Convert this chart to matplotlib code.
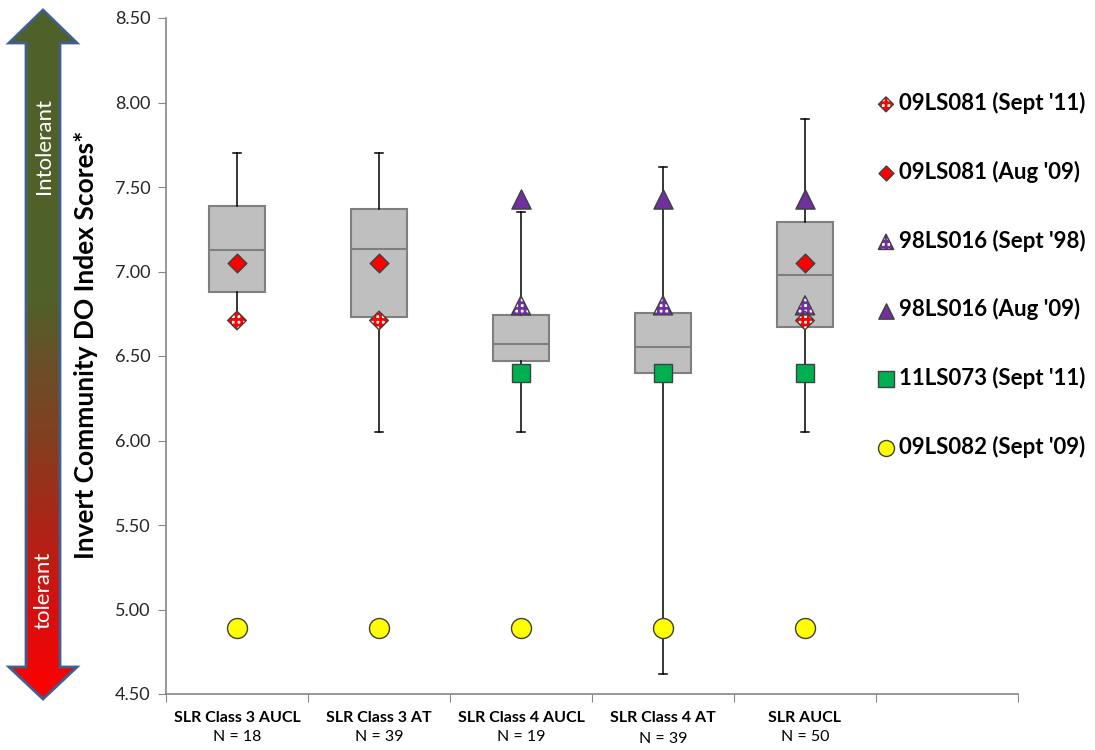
# Invert Community DO index scores by SLR class, with site scores overlaid
import numpy as np
import matplotlib
matplotlib.use("Agg")
import matplotlib.pyplot as plt
from matplotlib.colors import LinearSegmentedColormap
from matplotlib.patches import Polygon
from matplotlib.legend_handler import HandlerTuple

plt.rcParams["font.family"] = ["Lato", "DejaVu Sans"]
plt.rcParams["hatch.linewidth"] = 2.0

categories = ["SLR Class 3 AUCL", "SLR Class 3 AT", "SLR Class 4 AUCL", "SLR Class 4 AT", "SLR AUCL"]
n_counts = [18, 39, 19, 39, 50]

# box stats
whis_lo = [6.69, 6.05, 6.05, 4.62, 6.05]
q1 = [6.88, 6.73, 6.47, 6.40, 6.67]
med = [7.13, 7.135, 6.57, 6.555, 6.98]
q3 = [7.39, 7.37, 6.74, 6.755, 7.29]
whis_hi = [7.70, 7.70, 7.35, 7.62, 7.90]

# site scores (category positions, score)
site_09LS081_sep11 = ([1, 2, 5], 6.71)
site_09LS081_aug09 = ([1, 2, 5], 7.05)
site_98LS016_sep98 = ([3, 4, 5], 6.80)
site_98LS016_aug09 = ([3, 4, 5], 7.43)
site_11LS073_sep11 = ([3, 4, 5], 6.40)
site_09LS082_sep09 = ([1, 2, 3, 4, 5], 4.89)

yticks = [4.5, 5.0, 5.5, 6.0, 6.5, 7.0, 7.5, 8.0, 8.5]

fig = plt.figure(figsize=(10.95, 7.5), dpi=100)
ax = fig.add_axes([166 / 1095, 1 - 694 / 750, (1018 - 166) / 1095, (694 - 18) / 750])

stats = []
for i in range(len(categories)):
    stats.append(dict(med=med[i], q1=q1[i], q3=q3[i], whislo=whis_lo[i], whishi=whis_hi[i], fliers=[]))
ax.bxp(stats, positions=range(1, 6), widths=0.4, patch_artist=True, showfliers=False,
       capwidths=0.06,
       boxprops=dict(facecolor="#BFBFBF", edgecolor="#7F7F7F", linewidth=1.5),
       medianprops=dict(color="#7F7F7F", linewidth=1.5),
       whiskerprops=dict(color="black", linewidth=1.1),
       capprops=dict(color="black", linewidth=1.1), zorder=2)

grey = "#404040"

def plot_site(site, marker, face, s, hatch=None, hatch_col=None):
    xs, val = site
    ys = [val] * len(xs)
    if hatch:
        base = ax.scatter(xs, ys, s=s, marker=marker, facecolor="white", edgecolor=hatch_col,
                          hatch=hatch, linewidth=0, zorder=4)
        top = ax.scatter(xs, ys, s=s, marker=marker, facecolor="none", edgecolor=grey,
                         linewidth=1.0, zorder=5)
        return (base, top)
    return ax.scatter(xs, ys, s=s, marker=marker, facecolor=face, edgecolor=grey,
                      linewidth=1.0, zorder=5)

h1 = plot_site(site_09LS081_sep11, "D", None, 90, hatch="+++", hatch_col="#FF0000")
h2 = plot_site(site_09LS081_aug09, "D", "#FF0000", 90)
h3 = plot_site(site_98LS016_sep98, "^", None, 190, hatch="+++", hatch_col="#7030A0")
h4 = plot_site(site_98LS016_aug09, "^", "#7030A0", 190)
h5 = plot_site(site_11LS073_sep11, "s", "#00B050", 187)
h6 = plot_site(site_09LS082_sep09, "o", "#FFFF00", 207)

labels = ["09LS081 (Sept '11)", "09LS081 (Aug '09)", "98LS016 (Sept '98)",
          "98LS016 (Aug '09)", "11LS073 (Sept '11)", "09LS082 (Sept '09)"]
leg = fig.legend([h1, h2, h3, h4, h5, h6], labels, loc="upper left",
                 bbox_to_anchor=(866 / 1095, 1 - 81 / 750), frameon=False,
                 borderpad=0, labelspacing=2.1, handlelength=0.8, handletextpad=0.2,
                 markerscale=0.8,
                 handler_map={tuple: HandlerTuple(ndivide=1, pad=0)},
                 prop=dict(weight="bold", size=16))

ax.set_xlim(0.5, 6.5)
ax.set_ylim(4.5, 8.5)
ax.set_yticks(yticks)
ax.set_yticklabels([f"{v:.2f}" for v in yticks], fontsize=13, color="#262626")
ax.tick_params(axis="y", direction="out", length=6, color="#868686", pad=5)
ax.set_xticks(np.arange(0.5, 7.0, 1.0))
ax.set_xticklabels([])
ax.tick_params(axis="x", direction="out", length=6, color="#868686")
for side in ["top", "right"]:
    ax.spines[side].set_visible(False)
for side in ["left", "bottom"]:
    ax.spines[side].set_color("#868686")
    ax.spines[side].set_linewidth(1.2)

trans = ax.get_xaxis_transform()
for i, (cat, n) in enumerate(zip(categories, n_counts)):
    ax.text(i + 1, -0.035, cat, transform=trans, ha="center", va="center",
            fontsize=11.5, fontweight="bold")
    ax.text(i + 1, -0.063 - (0.004 if i == 3 else 0), f"N = {n}", transform=trans,
            ha="center", va="center", fontsize=11.5)

fig.text(86 / 1095, 1 - 345 / 750, "Invert Community DO Index Scores*", rotation=90,
         ha="center", va="center", fontsize=19, fontweight="bold")

# gradient double arrow on the left
ax_arr = fig.add_axes([0, 0, 100 / 1095, 1])
ax_arr.set_xlim(0, 100)
ax_arr.set_ylim(750, 0)
ax_arr.axis("off")
cmap = LinearSegmentedColormap.from_list("tol", [
    (0.0, "#4F6128"), (0.42, "#4F6128"), (0.50, "#67512A"), (0.62, "#823F20"),
    (0.75, "#AD2517"), (0.87, "#D51010"), (1.0, "#FF0000")])
grad = np.linspace(0, 1, 300).reshape(-1, 1)
img = ax_arr.imshow(grad, cmap=cmap, extent=[0, 100, 699, 10], aspect="auto", zorder=1)
arrow = Polygon([(43, 10), (77, 43), (60, 43), (60, 667), (77, 667), (43, 699),
                 (9, 667), (26, 667), (26, 43), (9, 43)], closed=True,
                facecolor="none", edgecolor="#3F5F8F", linewidth=2, zorder=2)
ax_arr.add_patch(arrow)
img.set_clip_path(arrow)
ax_arr.text(43.5, 146, "Intolerant", rotation=90, color="white", ha="center", va="center",
            fontsize=16, zorder=5)
ax_arr.text(43.5, 590, "tolerant", rotation=90, color="white", ha="center", va="center",
            fontsize=16, zorder=5)

fig.savefig("out.png", dpi=100)
